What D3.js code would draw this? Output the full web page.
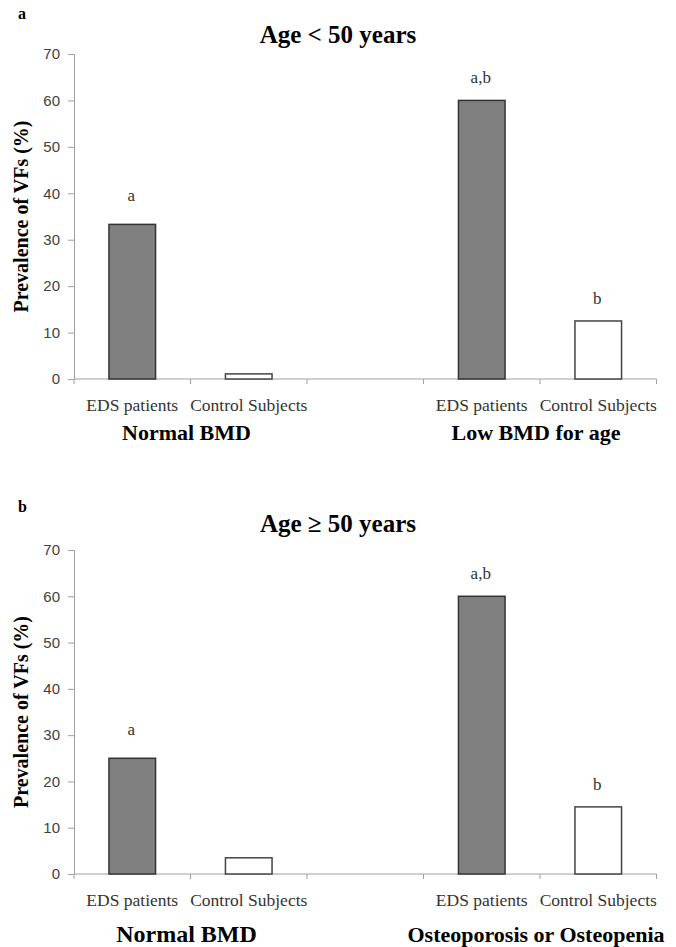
<!DOCTYPE html>
<html>
<head>
<meta charset="utf-8">
<script src="https://cdn.jsdelivr.net/npm/d3@7"></script>
<style>
  body { margin: 0; background: #fff; }
</style>
</head>
<body>
<svg id="chart" width="676" height="947"></svg>
<script>
// categories along the x axis (third slot is an empty gap)
const slots = ["n_eds", "n_ctl", "gap", "l_eds", "l_ctl"];
const slotLabels = ["EDS patients", "Control Subjects", "", "EDS patients", "Control Subjects"];
const yTicks = [0, 10, 20, 30, 40, 50, 60, 70];

// panel a: age < 50
const valuesA = [33.3, 1.1, null, 60, 12.5];
const marksA = ["a", "", "", "a,b", "b"];
const groupsA = ["Normal BMD", "Low BMD for age"];

// panel b: age >= 50
const valuesB = [25, 3.5, null, 60, 14.5];
const marksB = ["a", "", "", "a,b", "b"];
const groupsB = ["Normal BMD", "Osteoporosis or Osteopenia"];

const SERIF = '"Liberation Serif", "Times New Roman", serif';
const SANS = '"Liberation Sans", Arial, sans-serif';

const svg = d3.select('#chart').attr('font-family', SERIF);

function drawPanel(opt) {
    const g = svg.append('g');

    const x = d3.scaleBand().domain(slots).range([74, 656.5]);
    const y = d3.scaleLinear().domain([0, 70]).range([opt.y0, opt.y70]);

    // panel letter
    g.append('text')
        .attr('x', 18).attr('y', opt.letterY)
        .attr('font-size', 16).attr('font-weight', 'bold')
        .text(opt.letter);

    // title
    g.append('text')
        .attr('x', 338).attr('y', opt.titleY)
        .attr('text-anchor', 'middle')
        .attr('font-size', 25).attr('font-weight', 'bold')
        .text(opt.title);

    // y axis
    const yAxis = g.append('g')
        .attr('transform', 'translate(74,0)')
        .call(d3.axisLeft(y).tickValues(yTicks).tickSize(6).tickPadding(8))
        .attr('font-family', SANS)
        .attr('font-size', 15);
    yAxis.select('.domain').attr('stroke', '#a0a0a0');
    yAxis.selectAll('.tick line').attr('stroke', '#a0a0a0');
    yAxis.selectAll('.tick text').attr('fill', '#404040');

    // x axis: ticks on band boundaries
    g.append('line')
        .attr('x1', 74).attr('x2', 656.5)
        .attr('y1', opt.y0).attr('y2', opt.y0)
        .attr('stroke', '#a0a0a0');
    const bounds = slots.map(s => x(s)).concat([x.range()[1]]);
    g.selectAll('line.xtick')
        .data(bounds)
        .enter()
        .append('line')
        .attr('class', 'xtick')
        .attr('x1', d => d).attr('x2', d => d)
        .attr('y1', opt.y0).attr('y2', opt.y0 + 5)
        .attr('stroke', '#a0a0a0');

    // y axis title
    g.append('text')
        .attr('transform', `translate(28,${(opt.y0 + opt.y70) / 2}) rotate(-90)`)
        .attr('text-anchor', 'middle')
        .attr('font-size', 20).attr('font-weight', 'bold')
        .text('Prevalence of VFs (%)');

    // bars
    const bw = x.bandwidth() * 0.4;
    const rows = slots.map((s, i) => ({ slot: s, v: opt.values[i], mark: opt.marks[i] }))
        .filter(d => d.v !== null);

    g.selectAll('rect.bar')
        .data(rows)
        .enter()
        .append('rect')
        .attr('class', 'bar')
        .attr('x', d => x(d.slot) + (x.bandwidth() - bw) / 2)
        .attr('y', d => y(d.v))
        .attr('width', bw)
        .attr('height', d => y(0) - y(d.v))
        .attr('fill', d => d.slot.endsWith('eds') ? '#808080' : '#ffffff')
        .attr('stroke', d => d.slot.endsWith('eds') ? '#333' : '#444')
        .attr('stroke-width', 1.5);

    // significance letters
    g.selectAll('text.mark')
        .data(rows.filter(d => d.mark))
        .enter()
        .append('text')
        .attr('class', 'mark')
        .attr('x', d => x(d.slot) + x.bandwidth() / 2 - 1)
        .attr('y', d => y(d.v) - (d.mark === 'a' ? 23 : 17))
        .attr('text-anchor', 'middle')
        .attr('font-size', 17).attr('fill', '#333')
        .text(d => d.mark);

    // category labels
    g.selectAll('text.cat')
        .data(slots.map((s, i) => ({ slot: s, label: slotLabels[i] })).filter(d => d.label))
        .enter()
        .append('text')
        .attr('class', 'cat')
        .attr('x', d => x(d.slot) + x.bandwidth() / 2)
        .attr('y', opt.y0 + opt.catDy)
        .attr('text-anchor', 'middle')
        .attr('font-size', 17.5).attr('fill', '#333')
        .text(d => d.label);

    // group labels, centred between each pair of bars
    const groupCenters = [x('n_ctl') - 4, x('l_ctl') - 4];
    g.selectAll('text.grp')
        .data(opt.groups)
        .enter()
        .append('text')
        .attr('class', 'grp')
        .attr('x', (d, i) => groupCenters[i])
        .attr('y', opt.y0 + opt.grpDy)
        .attr('text-anchor', 'middle')
        .attr('font-size', (d, i) => opt.grpSize[i]).attr('font-weight', 'bold')
        .text(d => d);
}

drawPanel({
    letter: 'a', letterY: 19, title: 'Age < 50 years', titleY: 43,
    y0: 379, y70: 54, values: valuesA, marks: marksA, groups: groupsA,
    catDy: 32, grpDy: 61, grpSize: [22, 22]
});

drawPanel({
    letter: 'b', letterY: 512, title: 'Age \u2265 50 years', titleY: 532,
    y0: 874, y70: 550, values: valuesB, marks: marksB, groups: groupsB,
    catDy: 32, grpDy: 68, grpSize: [24, 22]
});
</script>
</body>
</html>
